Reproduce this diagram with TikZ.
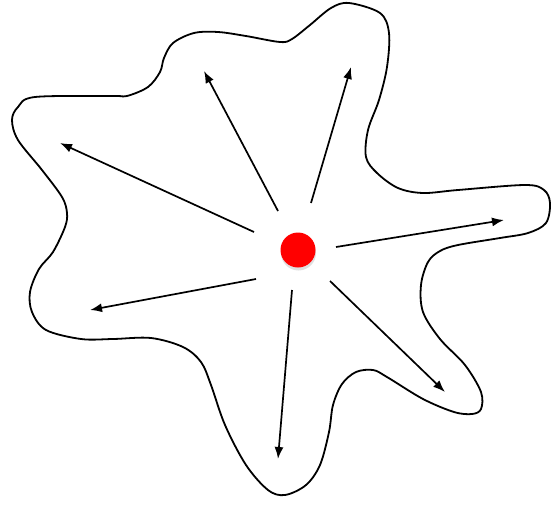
\documentclass[tikz,border=0pt]{standalone}
\usetikzlibrary{arrows.meta,shadows}

\tikzset{
  outline/.style={line width=1.8pt, line join=round},
  ray/.style={line width=1.7pt, -{Latex[length=12pt,width=9pt]}},
  source/.style={circle, fill=red, minimum size=35pt, inner sep=0pt,
    drop shadow={opacity=0.25, shadow xshift=0.5pt, shadow yshift=-3pt}}
}

\begin{document}
\begin{tikzpicture}[x=1pt, y=-1pt]
  \useasboundingbox (0,0) rectangle (552,504);
  % blob outline
  \draw[outline] plot[smooth cycle, tension=0.55] coordinates {
    (349,3) (380,13) (389,33) (387,67) (379,100) (368,130) (366,157)
    (377,173) (398,188) (423,193) (458,190) (525,185) (544,190) (550,203)
    (546,223) (528,233) (500,238) (458,245) (440,251) (428,262) (421,285)
    (423,312) (440,339) (465,365) (481,392) (481,409) (472,414) (454,412)
    (423,399) (387,377) (373,370) (356,372) (342,384) (333,405) (329,432)
    (320,465) (306,485) (285,495) (268,490) (246,465) (225,425) (211,385)
    (201,362) (183,347) (151,338) (113,339) (81,339) (46,330) (32,312)
    (30,292) (39,269) (53,252) (65,227) (67,213) (62,197) (42,170)
    (18,140) (12,120) (18,107) (35,97) (113,96) (127,96) (148,87)
    (160,72) (164,58) (173,43) (194,33) (218,32) (246,36) (280,42)
    (292,39) (310,25) (331,8)};
  % centre
  \node[source] (dot) at (298,250) {};
  % rays
  \foreach \n/\sx/\sy/\tx/\ty in {1/254/232/60/143, 2/278/211/204/71,
      3/311/203/351/67, 4/336/247/504/220, 5/330/281/445/392,
      6/292/290/278/459, 7/256/279/90/310} {
    \coordinate (s\n) at (\sx,\sy);
    \coordinate (t\n) at (\tx,\ty);
    \draw[ray] (s\n) -- (t\n);
  }
\end{tikzpicture}
\end{document}
